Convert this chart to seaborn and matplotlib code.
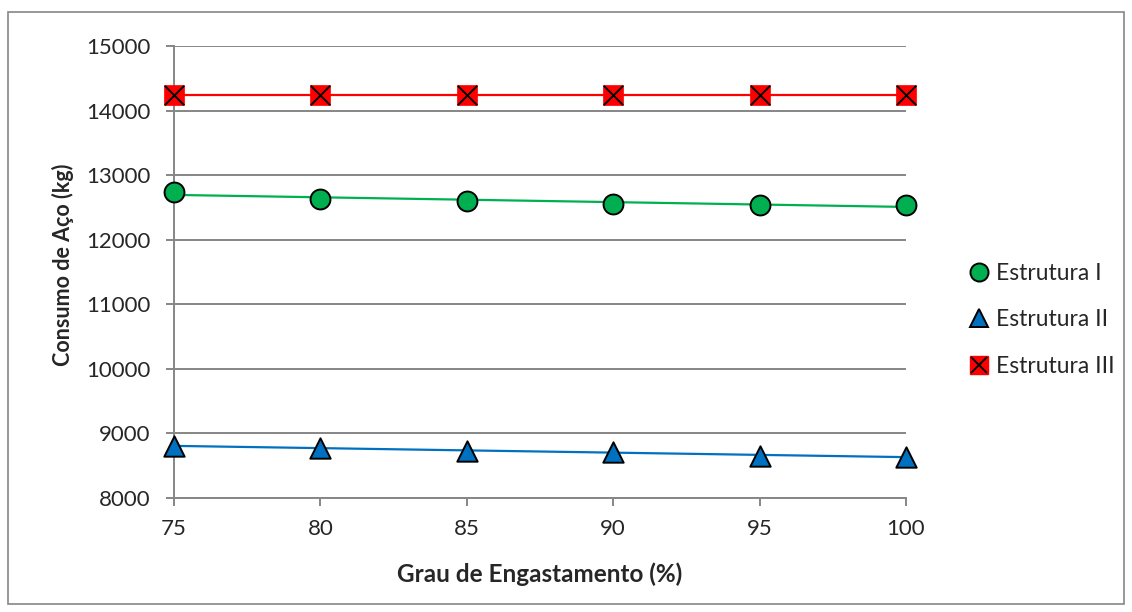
import numpy as np
import pandas as pd
import matplotlib
matplotlib.use("Agg")
import matplotlib.pyplot as plt
import seaborn as sns
from matplotlib.lines import Line2D
from matplotlib.patches import Rectangle
from matplotlib.legend_handler import HandlerTuple

# ---- data ----
grau = [75, 80, 85, 90, 95, 100]
estrutura_i = [12740, 12630, 12600, 12550, 12545, 12540]
estrutura_ii = [8810, 8770, 8730, 8720, 8650, 8640]
estrutura_iii = [14240, 14240, 14240, 14240, 14240, 14240]
series_names = ["Estrutura I", "Estrutura II", "Estrutura III"]
x_ticks = [75, 80, 85, 90, 95, 100]
y_ticks = [8000, 9000, 10000, 11000, 12000, 13000, 14000, 15000]
x_label = "Grau de Engastamento (%)"
y_label = "Consumo de Aço (kg)"

colors = ["#00B050", "#0070C0", "#FF0000"]
grid_c = "#868686"

sns.set_theme(style="white")
plt.rcParams['font.family'] = ['Lato', 'DejaVu Sans']

W, H = 1132, 612
fig = plt.figure(figsize=(W / 100, H / 100), dpi=100)
fig.patch.set_facecolor("white")
ax = fig.add_axes([174 / W, 1 - 498 / H, (906 - 174) / W, (498 - 46) / H])

# outer border
fig.patches.append(Rectangle((8 / W, 1 - 604 / H), (1124 - 8) / W, (604 - 12) / H,
                             transform=fig.transFigure, fill=False,
                             edgecolor=grid_c, linewidth=1.2))

all_series = [estrutura_i, estrutura_ii, estrutura_iii]
x_arr = np.array(grau, dtype=float)

# linear trendlines
for vals, c in zip(all_series, colors):
    coef = np.polyfit(x_arr, np.array(vals, dtype=float), 1)
    fit = np.polyval(coef, x_arr)
    sns.lineplot(x=x_arr, y=fit, color=c, linewidth=1.6, ax=ax, zorder=2)

# markers
ms = 205
sns.scatterplot(x=grau, y=estrutura_i, marker="o", s=ms, color=colors[0],
                edgecolor="black", linewidth=1.4, ax=ax, zorder=3, clip_on=False)
sns.scatterplot(x=grau, y=estrutura_ii, marker="^", s=ms * 1.05, color=colors[1],
                edgecolor="black", linewidth=1.4, ax=ax, zorder=3, clip_on=False)
sns.scatterplot(x=grau, y=estrutura_iii, marker="s", s=ms, color=colors[2],
                edgecolor=colors[2], linewidth=0.5, ax=ax, zorder=3, clip_on=False)
sns.scatterplot(x=grau, y=estrutura_iii, marker="x", s=ms * 0.95, color="black",
                linewidth=1.4, ax=ax, zorder=4, clip_on=False)

ax.set_xlim(75, 100)
ax.set_ylim(8000, 15000)
ax.set_xticks(x_ticks)
ax.set_yticks(y_ticks)
ax.set_xticklabels([str(v) for v in x_ticks])
ax.set_yticklabels([str(v) for v in y_ticks])

ax.yaxis.grid(True, color=grid_c, linewidth=1.4)
ax.xaxis.grid(False)
ax.set_axisbelow(True)
for s in ["top", "right"]:
    ax.spines[s].set_visible(False)
for s in ["left", "bottom"]:
    ax.spines[s].set_color(grid_c)
    ax.spines[s].set_linewidth(1.4)

ax.tick_params(axis="y", direction="out", length=5.8, width=1.4, color=grid_c,
               labelsize=16, pad=11, left=True)
ax.tick_params(axis="x", direction="out", length=5.8, width=1.4, color=grid_c,
               labelsize=16, pad=9, bottom=True)

ax.set_xlabel(x_label, fontsize=17.5, fontweight="bold", va="center")
ax.xaxis.set_label_coords((540 - 174) / 732, (498 - 574) / 452)
ax.set_ylabel(y_label, fontsize=15.5, fontweight="bold", va="center")
ax.yaxis.set_label_coords((63 - 174) / 732, (498 - 265) / 452)

# legend (markers only)
h1 = Line2D([], [], linestyle="none", marker="o", markersize=13,
            markerfacecolor=colors[0], markeredgecolor="black", markeredgewidth=1.4)
h2 = Line2D([], [], linestyle="none", marker="^", markersize=13,
            markerfacecolor=colors[1], markeredgecolor="black", markeredgewidth=1.4)
h3a = Line2D([], [], linestyle="none", marker="s", markersize=13,
             markerfacecolor=colors[2], markeredgecolor=colors[2])
h3b = Line2D([], [], linestyle="none", marker="x", markersize=12,
             markeredgecolor="black", markeredgewidth=1.4)
fig.legend([h1, h2, (h3a, h3b)], series_names,
           handler_map={tuple: HandlerTuple(ndivide=1, pad=0)},
           loc="center left", bbox_to_anchor=(958 / W, 1 - 320 / H),
           frameon=False, fontsize=16.5, labelspacing=1.1,
           handlelength=1.0, handletextpad=0.25, borderaxespad=0)

fig.savefig("out.png", dpi=100, facecolor="white")
